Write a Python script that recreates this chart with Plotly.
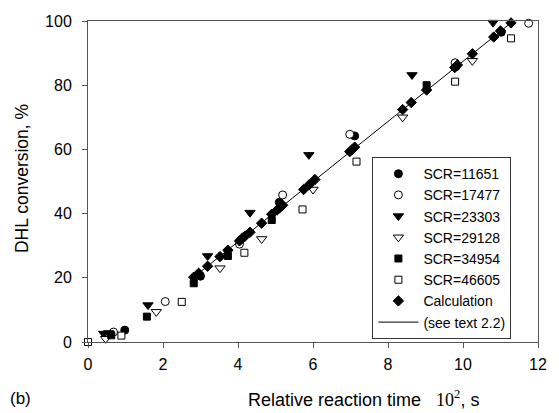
import plotly.graph_objects as go

# ---- data ----
scr_11651_x = [0.98, 3.0, 5.1, 7.11, 9.81, 11.02]
scr_11651_y = [3.7, 20.5, 43.5, 64.2, 85.8, 96.5]

scr_17477_x = [0.68, 2.06, 4.04, 5.19, 6.98, 9.79, 11.75]
scr_17477_y = [3.1, 12.6, 30.5, 45.8, 64.7, 87.0, 99.3]

scr_23303_x = [0.42, 0.55, 1.6, 3.19, 4.32, 5.89, 8.64, 10.8]
scr_23303_y = [2.6, 2.8, 11.5, 26.8, 40.3, 58.3, 83.2, 99.5]

scr_29128_x = [0.47, 1.82, 3.52, 4.63, 6.0, 8.39, 10.25]
scr_29128_y = [1.0, 9.4, 23.0, 32.1, 47.5, 70.0, 87.6]

scr_34954_x = [0.62, 1.57, 2.82, 3.73, 4.9, 9.03]
scr_34954_y = [2.1, 7.9, 18.3, 26.8, 38.0, 80.0]

scr_46605_x = [0.0, 0.89, 2.5, 4.17, 5.72, 7.16, 9.79, 11.28]
scr_46605_y = [0.0, 2.0, 12.5, 27.8, 41.3, 56.2, 81.1, 94.6]

calc_x = [2.82, 2.95, 3.19, 3.52, 3.73, 4.04, 4.12, 4.19, 4.32, 4.63, 4.9,
          5.05, 5.12, 5.19, 5.75, 5.9, 6.05, 6.98, 7.05, 7.11, 8.39, 8.62,
          9.03, 9.78, 9.85, 10.25, 10.82, 11.0, 11.28]
calc_y = [20.2, 21.4, 23.6, 26.6, 28.6, 31.5, 32.4, 33.0, 34.2, 37.0, 39.8,
          41.2, 41.9, 42.6, 47.5, 49.0, 50.6, 59.3, 60.0, 60.7, 72.4, 74.6,
          78.5, 85.5, 86.3, 89.8, 95.0, 96.9, 99.4]

line_x = [2.8, 11.3]
line_y = [20.0, 99.6]

x_ticks = [0, 2, 4, 6, 8, 10, 12]
y_ticks = [0, 20, 40, 60, 80, 100]

FONT = "Liberation Sans, Arial, sans-serif"
SERIF = "'Liberation Serif', 'Times New Roman', serif"

fig = go.Figure()

def add(name, xs, ys, symbol, size, filled):
    fig.add_trace(go.Scatter(
        x=xs, y=ys, mode="markers", name=name,
        marker=dict(symbol=symbol, size=size,
                    color="black" if filled else "white",
                    line=dict(color="black", width=1)),
        cliponaxis=False,
    ))

add("SCR=11651", scr_11651_x, scr_11651_y, "circle", 8, True)
add("SCR=17477", scr_17477_x, scr_17477_y, "circle", 8, False)
add("SCR=23303", scr_23303_x, scr_23303_y, "triangle-down", 9, True)
add("SCR=29128", scr_29128_x, scr_29128_y, "triangle-down", 9, False)
add("SCR=34954", scr_34954_x, scr_34954_y, "square", 7, True)
add("SCR=46605", scr_46605_x, scr_46605_y, "square", 7, False)
add("Calculation", calc_x, calc_y, "diamond", 8, True)

fig.add_trace(go.Scatter(
    x=line_x, y=line_y, mode="lines", name="(see text 2.2)",
    line=dict(color="black", width=1), cliponaxis=False,
))

axis_common = dict(
    showgrid=False, zeroline=False, showline=True, linecolor="#555",
    linewidth=1, mirror=True, ticks="outside", ticklen=5, tickcolor="#555",
    tickfont=dict(family=FONT, size=16, color="black"),
)

fig.update_layout(
    width=559, height=413,
    margin=dict(l=88, r=12, t=21, b=71),
    paper_bgcolor="white", plot_bgcolor="white",
    font=dict(family=FONT, size=15, color="black"),
    showlegend=True,
    legend=dict(
        x=0.632, y=0.576, xanchor="left", yanchor="top",
        bgcolor="white", bordercolor="#333", borderwidth=1,
        font=dict(family=FONT, size=14, color="black"),
        itemwidth=40, tracegroupgap=0,
    ),
    xaxis=dict(range=[0, 12], tickvals=x_ticks, ticklabelstandoff=3, **axis_common),
    yaxis=dict(range=[0, 100], tickvals=y_ticks, ticklabelstandoff=7, **axis_common),
    annotations=[
        dict(text="Relative reaction time   <span style=\"font-family:" + SERIF + "; font-size:18px\">10<sup>2</sup></span>, s",
             xref="paper", yref="paper", x=0.35, y=-0.1745,
             xanchor="left", yanchor="middle", showarrow=False,
             font=dict(family=FONT, size=18)),
        dict(text="DHL conversion, %", xref="paper", yref="paper",
             x=-0.145, y=0.51, xanchor="center", yanchor="middle",
             textangle=-90, showarrow=False, font=dict(family=FONT, size=17.5)),
        dict(text="(b)", xref="paper", yref="paper", x=-0.178, y=-0.1745,
             xanchor="left", yanchor="middle", showarrow=False,
             font=dict(family=FONT, size=17)),
    ],
)

fig.write_html("out.html")
